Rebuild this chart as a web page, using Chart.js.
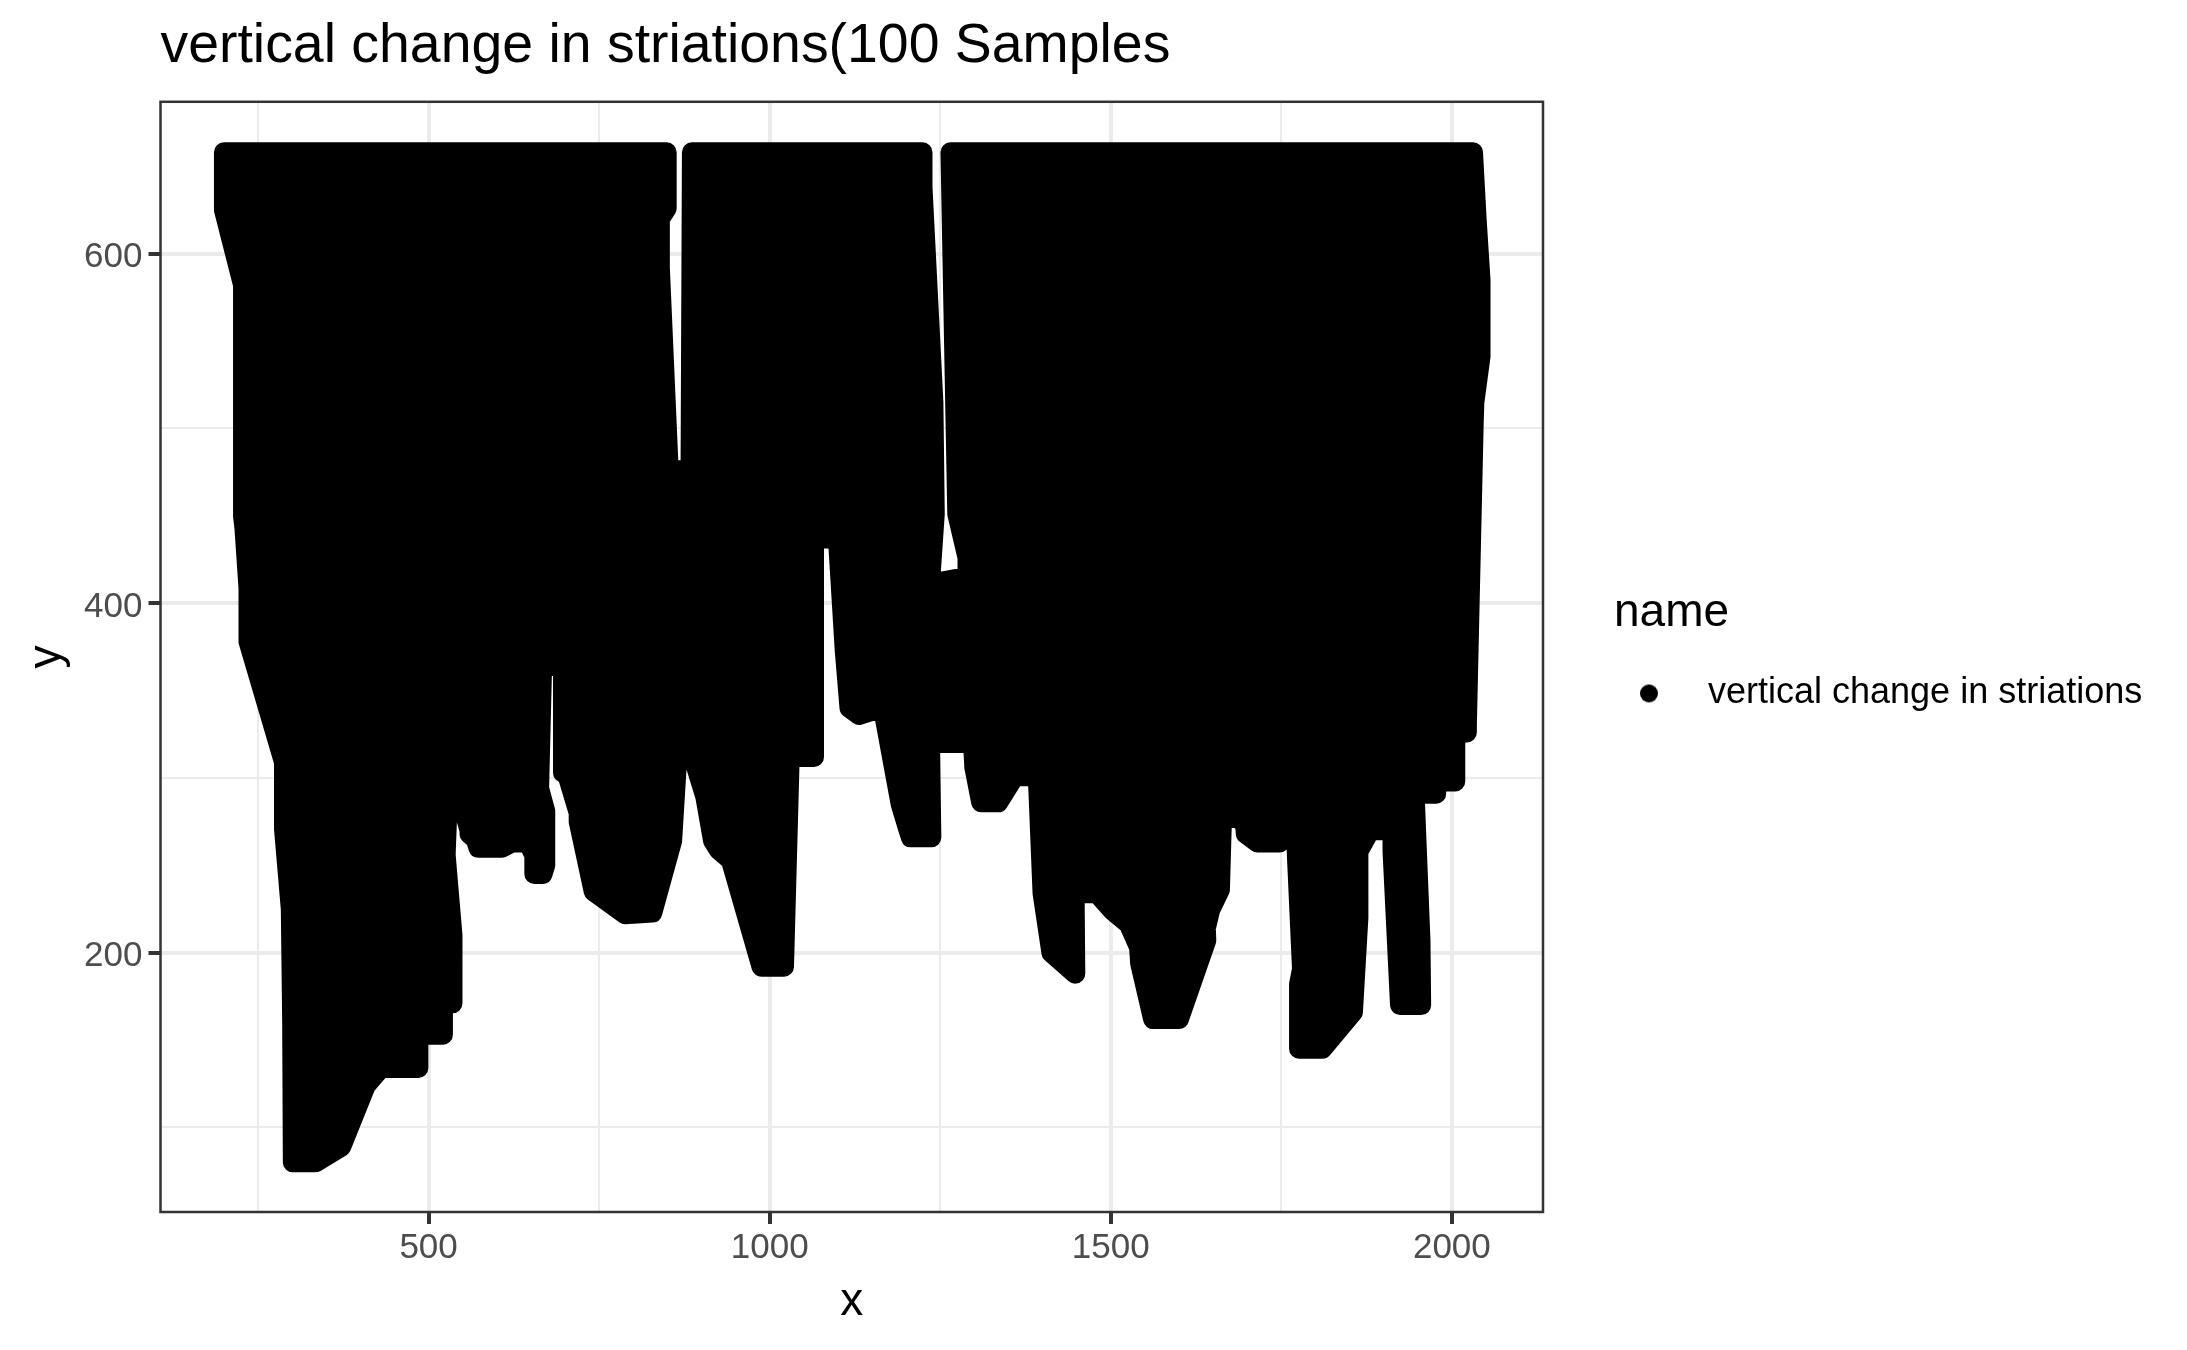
<!DOCTYPE html>
<html>
<head>
<meta charset="utf-8">
<title>vertical change in striations</title>
<script src="https://cdn.jsdelivr.net/npm/chart.js@4"></script>
<style>
  html, body { margin: 0; padding: 0; background: #fff; }
  canvas { display: block; }
</style>
</head>
<body>
<canvas id="chart" width="2187" height="1350"></canvas>
<script>
/* values: lower edge of the thick line, left to right */
const lowerEdgeX = [200, 200, 228, 228, 236, 236, 288, 288, 298, 300, 301, 334, 372, 408, 430, 485, 485, 521, 521, 535,
  535, 530, 525, 528, 560, 560, 569, 573, 607, 622, 655, 655, 667, 671, 671, 662, 666, 666, 697, 697,
  720, 720, 742, 788, 828, 857, 865, 894, 917, 925, 943, 988, 1021, 1029, 1029, 1065, 1065, 1100, 1110, 1117,
  1131, 1147, 1166, 1192, 1202, 1207, 1237, 1235, 1298, 1300, 1310, 1335, 1359, 1393, 1400, 1413, 1448, 1447, 1480, 1503,
  1540, 1543, 1562, 1600, 1640, 1639, 1660, 1663, 1696, 1698, 1715, 1747, 1747, 1780, 1782, 1776, 1776, 1810, 1855, 1863,
  1863, 1880, 1913, 1913, 1924, 1955, 1954, 1946, 1946, 1977, 1977, 2005, 2005, 2022, 2022, 2033, 2042, 2042, 2031];
const lowerEdgeY = [658, 625, 582, 450, 422, 378, 309, 271, 225, 161, 80, 80, 89, 124, 134, 134, 153, 153, 171, 171,
  210, 233, 256, 287, 287, 268, 265, 260, 260, 263, 263, 245, 245, 250, 281, 294, 358, 364, 364, 303,
  303, 275, 235, 222, 223, 264, 315, 315, 264, 259, 253, 192, 192, 307, 312, 312, 437, 437, 373, 340,
  336, 338, 340, 285, 272, 266, 266, 320, 320, 306, 286, 286, 301, 301, 234, 200, 188, 234, 234, 224,
  212, 194, 162, 162, 207, 219, 236, 277, 277, 268, 263, 263, 277, 277, 194, 182, 145, 145, 166, 220,
  258, 270, 270, 258, 170, 170, 207, 285, 291, 291, 298, 298, 326, 326, 387, 515, 541, 579, 658];

/* top edge, right to left, with the two narrow gaps */
const topEdgeX = [1265, 1275, 1290, 1290, 1235, 1242, 1240, 1224, 1224, 886, 884, 852, 839, 839, 849, 849, 200];
const topEdgeY = [658, 451, 426, 415, 411, 451, 515, 638, 658, 658, 476, 476, 592, 620, 626, 658, 658];

/* the up and down swings between them, left to right */
const swingX = [228, 228, 240, 240, 262, 262, 288, 288, 288, 302, 302, 326, 326, 354, 354, 382, 382, 402, 402, 430, 430,
  457, 457, 484, 484, 510, 510, 525, 525, 542, 542, 560, 560, 575, 575, 590, 590, 607, 607, 627, 627,
  640, 640, 662, 662, 680, 680, 680, 697, 697, 720, 720, 742, 742, 765, 765, 788, 788, 812, 812, 835,
  835, 852, 852, 880, 880, 905, 905, 925, 925, 950, 950, 975, 975, 1000, 1000, 1010, 1010, 1021, 1021, 1040,
  1040, 1060, 1060, 1082, 1082, 1095, 1095, 1110, 1110, 1125, 1125, 1140, 1140, 1160, 1160, 1180, 1180, 1200, 1200, 1222,
  1222, 1235, 1235, 1262, 1262, 1290, 1290, 1312, 1312, 1335, 1335, 1350, 1350, 1375, 1375, 1400, 1400, 1415, 1415, 1431,
  1431, 1447, 1447, 1470, 1470, 1495, 1495, 1520, 1520, 1545, 1545, 1565, 1565, 1590, 1590, 1612, 1612, 1630, 1630, 1640,
  1640, 1655, 1655, 1680, 1680, 1705, 1705, 1730, 1730, 1747, 1747, 1770, 1770, 1785, 1785, 1810, 1810, 1835, 1835, 1855,
  1855, 1860, 1860, 1880, 1880, 1905, 1905, 1924, 1924, 1945, 1945, 1970, 1970, 1995, 1995, 2022, 2022, 2033, 2033, 2042, 2042];
const swingY = [654, 455, 385, 654, 654, 350, 315, 278, 654, 654, 88, 84, 654, 654, 88, 105, 654, 654, 124, 140, 654,
  654, 140, 140, 654, 654, 160, 180, 654, 654, 295, 270, 654, 654, 265, 265, 654, 654, 265, 268, 654,
  654, 268, 250, 654, 654, 372, 654, 654, 310, 280, 654, 654, 242, 235, 654, 654, 228, 228, 654, 654,
  240, 265, 470, 470, 322, 290, 654, 654, 262, 250, 654, 654, 215, 197, 654, 654, 197, 197, 654, 654,
  318, 318, 654, 654, 445, 445, 654, 654, 378, 342, 654, 654, 345, 345, 654, 654, 315, 280, 654, 654,
  270, 325, 408, 408, 325, 325, 654, 654, 292, 292, 654, 654, 300, 305, 654, 654, 240, 203, 654, 654,
  198, 195, 654, 654, 240, 232, 654, 654, 222, 200, 654, 654, 168, 168, 654, 654, 178, 200, 654, 654,
  215, 240, 654, 654, 280, 270, 654, 654, 268, 268, 654, 654, 280, 150, 654, 654, 150, 162, 654, 654,
  172, 225, 654, 654, 275, 275, 654, 654, 175, 175, 654, 654, 296, 303, 654, 654, 330, 520, 640, 585, 545];

const xTickValues = [250, 500, 750, 1000, 1250, 1500, 1750, 2000];
const yTickValues = [100, 200, 300, 400, 500, 600];
const xTickLabels = [500, 1000, 1500, 2000];
const yTickLabels = [200, 400, 600];

const pathX = lowerEdgeX.concat(topEdgeX, swingX);
const pathY = lowerEdgeY.concat(topEdgeY, swingY);
const points = pathX.map((x, i) => ({ x: x, y: pathY[i] }));

const FONT = '"Liberation Sans", Arial, sans-serif';

// legend dot, sits off-centre in its box so the label starts further right
const dot = document.createElement('canvas');
dot.width = 78;
dot.height = 26;
const dotCtx = dot.getContext('2d');
dotCtx.fillStyle = '#000';
dotCtx.beginPath();
dotCtx.arc(36, 13, 9, 0, Math.PI * 2);
dotCtx.fill();

/* ggplot style panel frame, goes on top of the data */
const panelBorder = {
  id: 'panelBorder',
  afterDraw(chart) {
    const { ctx, chartArea: a } = chart;
    ctx.save();
    ctx.strokeStyle = '#333333';
    ctx.lineWidth = 2.5;
    ctx.strokeRect(a.left, a.top, a.right - a.left, a.bottom - a.top);
    ctx.restore();
  }
};

/* legend sits away from the panel, and must not clip at its fitted width */
const legendPlacement = {
  id: 'legendPlacement',
  afterLayout(chart) {
    chart.legend.left = 1614;
    chart.legend.right = 2187;
  }
};

function gridFor(labels) {
  return {
    color: '#EBEBEB',
    lineWidth: (c) => labels.includes(c.tick.value) ? 4 : 2,
    tickLength: 12,
    tickColor: (c) => labels.includes(c.tick.value) ? '#333333' : 'rgba(0,0,0,0)',
    tickWidth: 4
  };
}

new Chart(document.getElementById('chart'), {
  type: 'scatter',
  data: {
    datasets: [{
      label: 'vertical change in striations',
      data: points,
      showLine: true,
      borderColor: '#000',
      backgroundColor: '#000',
      borderWidth: 20,
      borderJoinStyle: 'round',
      borderCapStyle: 'round',
      tension: 0,
      pointRadius: 0,
      pointHoverRadius: 0
    }]
  },
  plugins: [panelBorder, legendPlacement],
  options: {
    responsive: false,
    animation: false,
    devicePixelRatio: 1,
    layout: { padding: { right: 144 } },
    plugins: {
      title: {
        display: true,
        text: 'vertical change in striations(100 Samples',
        align: 'start',
        fullSize: false,
        color: '#000',
        font: { family: FONT, size: 55.4, weight: 'normal', lineHeight: 1.2 },
        padding: { top: 13, bottom: 22.3 }
      },
      legend: {
        display: true,
        position: 'right',
        fullSize: false,
        maxWidth: 500,
        title: {
          display: true,
          text: 'name',
          position: 'start',
          color: '#000',
          font: { family: FONT, size: 46 },
          padding: { top: -11.6, bottom: 29.4 }
        },
        labels: {
          usePointStyle: true,
          pointStyle: dot,
          pointStyleWidth: 76,
          padding: 0,
          color: '#000',
          font: { family: FONT, size: 36 }
        }
      },
      tooltip: { enabled: false }
    },
    scales: {
      x: {
        type: 'linear',
        min: 107,
        max: 2133.6,
        afterBuildTicks: (axis) => { axis.ticks = xTickValues.map((v) => ({ value: v })); },
        afterFit: (axis) => { axis.height = 138; },
        title: {
          display: true,
          text: 'x',
          color: '#000',
          font: { family: FONT, size: 46 },
          padding: { top: 0, bottom: 20 }
        },
        border: { display: false },
        grid: gridFor(xTickLabels),
        ticks: {
          autoSkip: false,
          maxRotation: 0,
          padding: 3,
          color: '#4D4D4D',
          font: { family: FONT, size: 35 },
          callback: (v) => xTickLabels.includes(v) ? String(v) : ''
        }
      },
      y: {
        type: 'linear',
        min: 51.6,
        max: 686.9,
        afterBuildTicks: (axis) => { axis.ticks = yTickValues.map((v) => ({ value: v })); },
        afterFit: (axis) => { axis.width = 160.5; },
        title: {
          display: true,
          text: 'y',
          color: '#000',
          font: { family: FONT, size: 46 },
          padding: { top: 20, bottom: 0 }
        },
        border: { display: false },
        grid: gridFor(yTickLabels),
        ticks: {
          autoSkip: false,
          padding: 6,
          labelOffset: 4,
          color: '#4D4D4D',
          font: { family: FONT, size: 35 },
          callback: (v) => yTickLabels.includes(v) ? String(v) : ''
        }
      }
    }
  }
});
</script>
</body>
</html>
